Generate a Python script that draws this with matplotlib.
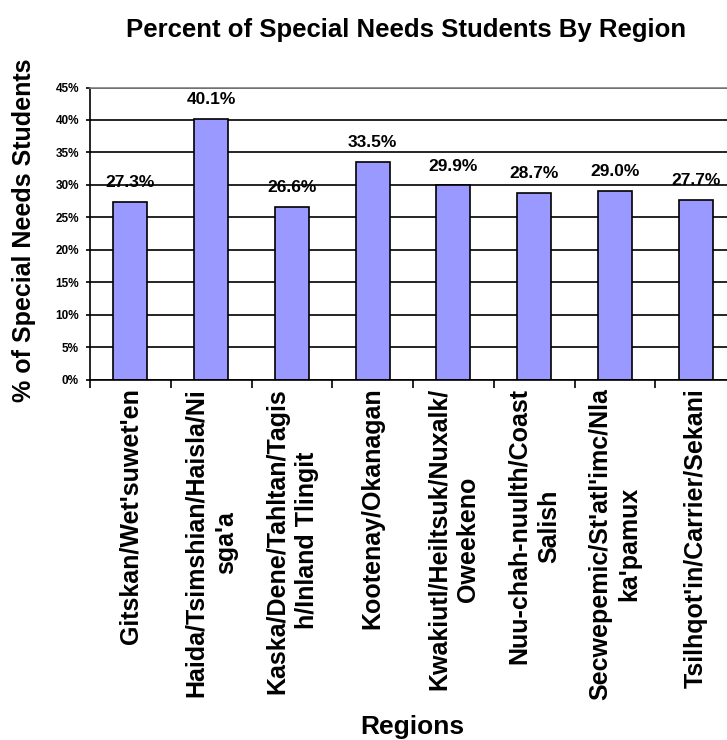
import matplotlib
matplotlib.use('Agg')
import matplotlib.pyplot as plt
from matplotlib.ticker import FixedLocator

plt.rcParams['font.family'] = ['Liberation Sans', 'DejaVu Sans']
plt.rcParams['font.weight'] = 'bold'

# Share of special needs students in each region (percent)
regions = [
    "Gitskan/Wet'suwet'en",
    "Haida/Tsimshian/Haisla/Ni\nsga'a",
    "Kaska/Dene/Tahltan/Tagis\nh/Inland Tlingit",
    "Kootenay/Okanagan",
    "Kwakiutl/Heiltsuk/Nuxalk/\nOweekeno",
    "Nuu-chah-nuulth/Coast\nSalish",
    "Secwepemic/St'atl'imc/Nla\nka'pamux",
    "Tsilhqot'in/Carrier/Sekani",
]
percent = [27.3, 40.1, 26.6, 33.5, 29.9, 28.7, 29.0, 27.7]
y_ticks = [0, 5, 10, 15, 20, 25, 30, 35, 40, 45]

W, H = 727, 740
fig = plt.figure(figsize=(W / 100, H / 100), dpi=100)
ax = fig.add_axes([90 / W, 1 - 379.5 / H, 646 / W, 292 / H])

x = list(range(len(regions)))
ax.bar(x, percent, width=0.42, color='#9999FF', edgecolor='black',
       linewidth=1.2, zorder=2)

for xi, v in zip(x, percent):
    ax.annotate(f'{v:.1f}%', (xi, v), xytext=(0, 14), textcoords='offset points',
                ha='center', va='center', fontsize=12.5, fontweight='bold')

ax.set_xlim(-0.5, len(regions) - 0.5)
ax.set_ylim(0, 45)
ax.set_yticks(y_ticks)
ax.set_yticklabels([f'{t}%' for t in y_ticks], fontsize=8.5, fontweight='bold')
ax.yaxis.grid(True, color='black', linewidth=1.2)
ax.set_axisbelow(True)
ax.tick_params(axis='y', length=3, width=1.2, pad=5)

# tick marks between categories, labels under each bar
ax.xaxis.set_major_locator(FixedLocator([i - 0.5 for i in range(len(regions) + 1)]))
ax.xaxis.set_major_formatter(plt.NullFormatter())
ax.set_xticks(x, minor=True)
ax.set_xticklabels(regions, minor=True, rotation=90, fontsize=18,
                   fontweight='bold', ha='center', va='top',
                   multialignment='center', linespacing=1.3)
ax.tick_params(axis='x', which='major', length=6, width=1.2)
ax.tick_params(axis='x', which='minor', length=0, pad=6)

for side in ['left', 'bottom']:
    ax.spines[side].set_color('black')
    ax.spines[side].set_linewidth(1.2)
ax.spines['top'].set_color('#808080')
ax.spines['top'].set_linewidth(1.2)
ax.spines['right'].set_color('#808080')

ax.set_ylabel('% of Special Needs Students', fontsize=18, fontweight='bold',
              va='center')
ax.yaxis.set_label_coords((24 - 90) / 646, 0.512)
ax.set_xlabel('Regions', fontsize=19, fontweight='bold', va='center')
ax.xaxis.set_label_coords((412 - 90) / 646, -1.19)

fig.text(406 / W, 1 - 30 / H, 'Percent of Special Needs Students By Region',
         ha='center', va='center', fontsize=18.5, fontweight='bold')

fig.savefig('out.png', dpi=100)
